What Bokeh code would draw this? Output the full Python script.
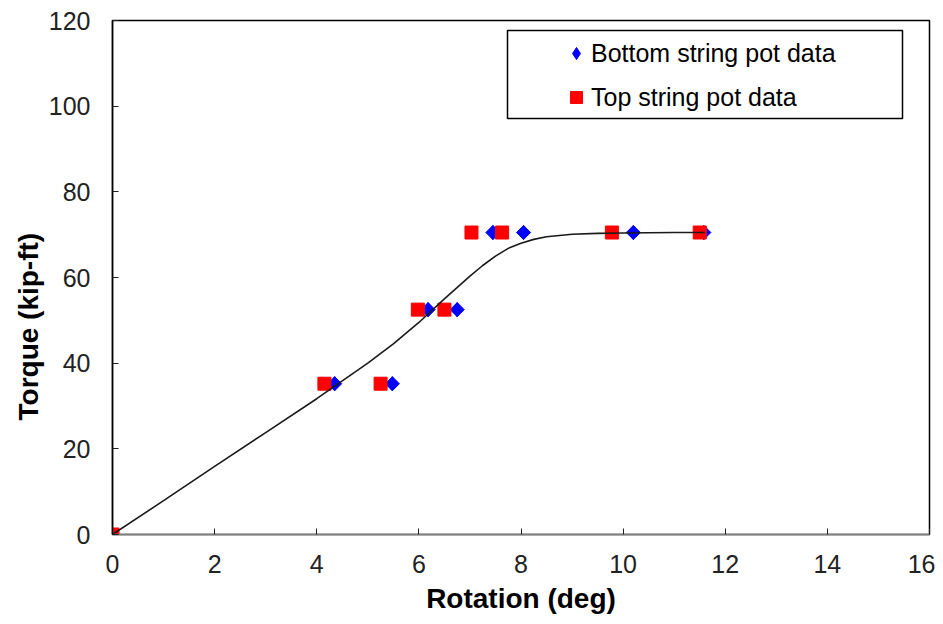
from bokeh.plotting import figure
from bokeh.models import (FixedTicker, Range1d, Legend, LegendItem, BoxAnnotation,
                          Title, ColumnDataSource)
from bokeh.embed import file_html
from bokeh.resources import INLINE
import math

# ---- data ----
rot_bottom = [0, 4.35, 5.48, 6.18, 6.75, 7.45, 8.05, 10.2, 11.58]
torque_bottom = [0, 35.2, 35.2, 52.5, 52.5, 70.5, 70.5, 70.5, 70.5]

rot_top = [0, 4.15, 5.25, 5.98, 6.5, 7.03, 7.63, 9.78, 11.5]
torque_top = [0, 35.2, 35.2, 52.5, 52.5, 70.5, 70.5, 70.5, 70.5]

curve_rot = [0, 1, 2, 3, 4, 5, 5.5, 6, 6.5, 7, 7.25, 7.5, 7.75, 8, 8.25, 8.5, 9, 9.5, 10, 11, 11.6]
curve_torque = [0, 7.9, 15.9, 23.8, 31.7, 40, 44.5, 49.5, 55, 60.3, 62.8, 65, 66.8, 68.0, 68.9, 69.5, 70.1, 70.3, 70.4, 70.5, 70.5]

x_ticks = [0, 2, 4, 6, 8, 10, 12, 14, 16]
y_ticks = [0, 20, 40, 60, 80, 100, 120]

x_label = "Rotation (deg)"
y_label = "Torque (kip-ft)"
label_bottom = "Bottom string pot data"
label_top = "Top string pot data"

FONT = "Liberation Sans"

p = figure(width=935, height=616, output_backend="svg", toolbar_location=None,
           x_range=Range1d(0, 16), y_range=Range1d(0, 120),
           min_border_left=112, min_border_right=6, min_border_top=20, min_border_bottom=82)

p.background_fill_color = "white"
p.border_fill_color = "white"
p.outline_line_color = "black"
p.outline_line_width = 1.5
p.grid.visible = False

for ax in (p.xaxis[0], p.yaxis[0]):
    ax.major_tick_in = 6
    ax.major_tick_out = 0
    ax.minor_tick_line_color = None
    ax.major_tick_line_color = "#222222"
    ax.major_label_text_font = FONT
    ax.major_label_text_font_size = "25px"
    ax.major_label_text_color = "#222222"
    ax.axis_line_width = 1.5

p.xaxis[0].ticker = FixedTicker(ticks=x_ticks)
p.yaxis[0].ticker = FixedTicker(ticks=y_ticks)
p.xaxis[0].axis_line_color = "#808080"
p.yaxis[0].axis_line_color = "black"
p.xaxis[0].major_label_standoff = 20
p.yaxis[0].major_label_standoff = 22

p.xaxis[0].axis_label = x_label
p.xaxis[0].axis_label_text_font = FONT
p.xaxis[0].axis_label_text_font_style = "bold"
p.xaxis[0].axis_label_text_font_size = "28px"
p.xaxis[0].axis_label_text_color = "black"
p.xaxis[0].axis_label_standoff = 7

ytitle = Title(text=y_label, align="left", offset=114, text_font=FONT,
               text_font_style="bold", text_font_size="28px", text_color="black",
               standoff=3)
p.add_layout(ytitle, "left")

src_b = ColumnDataSource(dict(x=rot_bottom, y=torque_bottom))
src_t = ColumnDataSource(dict(x=rot_top, y=torque_top))

# narrow diamond hidden beneath the rotated squares; used for the legend glyph
r_b_leg = p.scatter("x", "y", source=src_b, marker="diamond", size=14,
                    fill_color="#0000FF", line_color="#0000FF")
r_b = p.scatter("x", "y", source=src_b, marker="square", size=10, angle=math.pi / 4,
                fill_color="#0000FF", line_color="#0000FF")
r_t = p.scatter("x", "y", source=src_t, marker="square", size=13,
                fill_color="#FF0000", line_color="#FF0000")
p.line(curve_rot, curve_torque, line_color="#1a1a1a", line_width=1.6)

legend = Legend(items=[LegendItem(label=label_bottom, renderers=[r_b_leg]),
                       LegendItem(label=label_top, renderers=[r_t])],
                location=(449, 421), padding=0, margin=0, spacing=12,
                glyph_width=30, glyph_height=32, label_standoff=0,
                label_text_font=FONT, label_text_font_size="25px",
                label_text_color="black", border_line_alpha=0,
                background_fill_alpha=0)
p.add_layout(legend, "center")

box = BoxAnnotation(left=507, right=902, top=30, bottom=118,
                    left_units="canvas", right_units="canvas",
                    top_units="canvas", bottom_units="canvas",
                    fill_alpha=0, line_color="black", line_alpha=1.0, line_width=1.5)
p.add_layout(box)

open("out.html", "w").write(file_html(p, INLINE))
